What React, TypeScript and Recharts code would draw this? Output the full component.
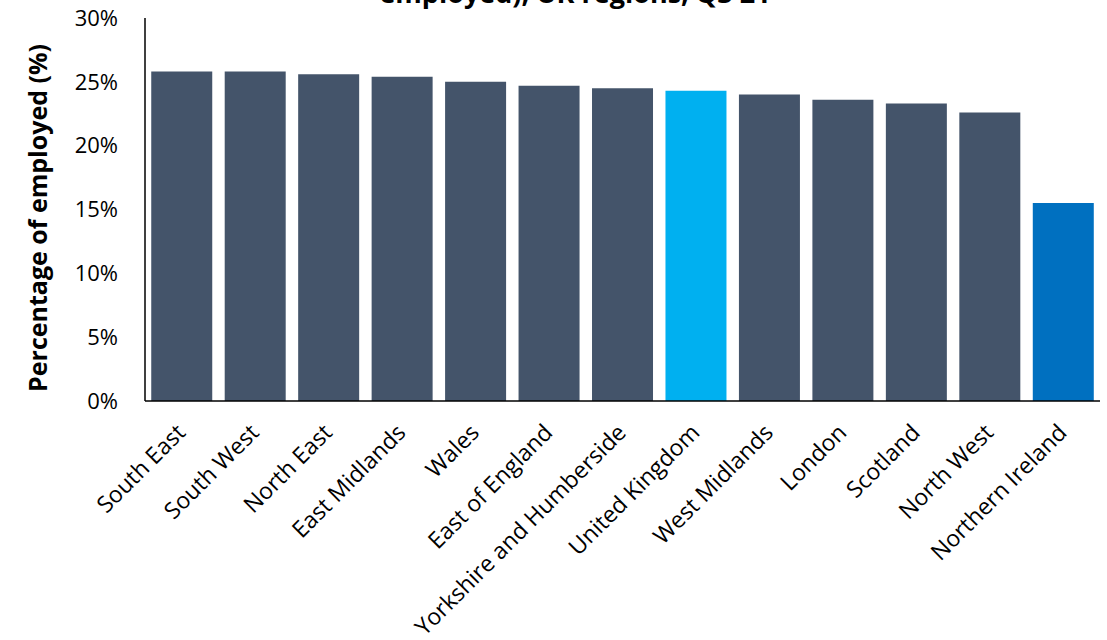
import React from "react";
import { BarChart, Bar, XAxis, YAxis, Cell } from "recharts";

const categories = [
  "South East",
  "South West",
  "North East",
  "East Midlands",
  "Wales",
  "East of England",
  "Yorkshire and Humberside",
  "United Kingdom",
  "West Midlands",
  "London",
  "Scotland",
  "North West",
  "Northern Ireland",
];
const values = [25.8, 25.8, 25.6, 25.4, 25.0, 24.7, 24.5, 24.3, 24.0, 23.6, 23.3, 22.6, 15.5];
const colors = [
  "#44546A", "#44546A", "#44546A", "#44546A", "#44546A", "#44546A", "#44546A",
  "#00B0F0", "#44546A", "#44546A", "#44546A", "#44546A", "#0070C0",
];
const yTicks = [0, 5, 10, 15, 20, 25, 30];
const titleLine = "employed), UK regions, Q3 21";
const yLabel = "Percentage of employed (%)";

const data = categories.map((name, i) => ({ name, value: values[i], color: colors[i] }));

const FONT = "'Open Sans', sans-serif";

const XTick = (props: any) => {
  const { x, y, payload } = props;
  return (
    <g transform={`translate(${x + 5},${y + 33})`}>
      <text
        x={0}
        y={0}
        textAnchor="end"
        transform="rotate(-45)"
        fontSize={23}
        fontFamily={FONT}
        fill="#000"
      >
        {payload.value}
      </text>
    </g>
  );
};

export default function App() {
  return (
    <div style={{ position: "absolute", left: 0, top: 0, width: 1107, height: 640, background: "#fff" }}>
      <svg width={1107} height={640} style={{ position: "absolute", left: 0, top: 0 }}>
        <text x={575} y={3} textAnchor="middle" fontSize={27} fontWeight="bold" fontFamily={FONT} fill="#000">
          {titleLine}
        </text>
        <text
          x={0}
          y={0}
          transform="translate(47,218) rotate(-90)"
          textAnchor="middle"
          fontSize={25}
          fontWeight="bold"
          fontFamily={FONT}
          fill="#000"
        >
          {yLabel}
        </text>
      </svg>
      <div style={{ position: "absolute", left: 0, top: 0 }}>
        <BarChart
          width={1107}
          height={640}
          data={data}
          margin={{ top: 18, right: 7, bottom: 0, left: 0 }}
          barCategoryGap="8.5%"
        >
          <XAxis
            dataKey="name"
            interval={0}
            tickLine={false}
            tickSize={0}
            tickMargin={0}
            axisLine={{ stroke: "#000", strokeWidth: 1.5 }}
            tick={<XTick />}
            height={239}
          />
          <YAxis
            width={145}
            domain={[0, 30]}
            ticks={yTicks}
            tickLine={false}
            tickSize={0}
            tickMargin={27}
            axisLine={{ stroke: "#000", strokeWidth: 1.5 }}
            tickFormatter={(v: number) => `${v}%`}
            tick={{ fontSize: 22, fontFamily: FONT, fill: "#000" }}
          />
          <Bar dataKey="value" isAnimationActive={false}>
            {data.map((d, i) => (
              <Cell key={i} fill={d.color} />
            ))}
          </Bar>
        </BarChart>
      </div>
    </div>
  );
}
